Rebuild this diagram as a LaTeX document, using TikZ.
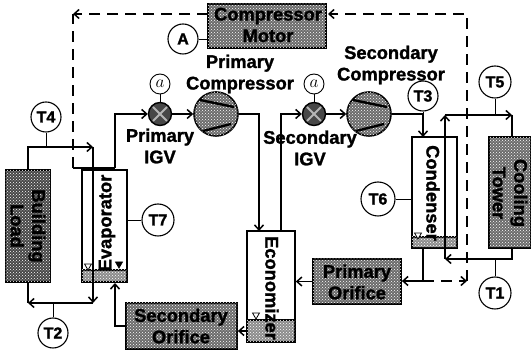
\documentclass[tikz,border=0pt]{standalone}
\usepackage{fontspec}
\setmainfont{Liberation Sans}[BoldFeatures={FakeBold=1.5}]
\usetikzlibrary{arrows.meta, shapes.geometric, calc, patterns}
\definecolor{cshade}{gray}{0.42}
\definecolor{cwater}{gray}{0.55}
\definecolor{cdark}{gray}{0.28}
\tikzset{
  every picture/.style={line width=1.4pt},
  caption/.style={font=\fontsize{18.3}{21.5}\selectfont\bfseries, align=center, inner sep=0pt},
  unit/.style={draw, fill=cshade, postaction={pattern=crosshatch dots, pattern color=white}, line width=1.8pt, inner sep=0pt},
  vessel/.style={draw, fill=white, line width=1.6pt, inner sep=0pt},
  water/.style={draw, fill=cwater, postaction={pattern=crosshatch dots, pattern color=white}, line width=1.6pt, inner sep=0pt},
  levelmark/.style={draw, fill=white, regular polygon, regular polygon sides=3, shape border rotate=180, minimum size=8pt, inner sep=0pt, line width=0.8pt},
  sensor/.style={draw, circle, fill=white, minimum size=#1, inner sep=0pt, line width=1.1pt, font=\fontsize{16}{16}\selectfont\bfseries},
  sensor/.default=30pt,
  stem/.style={line width=0.9pt},
  pipe/.style={-{Straight Barb[length=5pt,width=9pt,line width=1.5pt]}, line width=1.4pt},
  signal/.style={pipe, dash pattern=on 11pt off 7pt},
  comp/.style={draw, circle, fill=cshade, postaction={pattern=crosshatch dots, pattern color=white}, minimum size=44pt, inner sep=0pt, line width=1.6pt},
  valve/.style={draw, circle, fill=cdark, minimum size=23pt, inner sep=0pt, line width=1.4pt},
}
\begin{document}
\begin{tikzpicture}[x=1pt, y=-1pt]
  \useasboundingbox (0,0) rectangle (531,352);
  % units
  \node[unit, minimum width=118pt, minimum height=44pt] (motor) at (267,26) {};
  \node[unit, fill=cdark, minimum width=45pt, minimum height=112pt] (load) at (28,226) {};
  \node[unit, minimum width=42pt, minimum height=111pt] (tower) at (510,192.5) {};
  \node[unit, minimum width=88pt, minimum height=45pt] (orifA) at (357,281.5) {};
  \node[unit, minimum width=111pt, minimum height=46pt] (orifB) at (181.5,326) {};
  % vessels
  \node[vessel, minimum width=45pt, minimum height=112pt] (evap) at (104.5,226) {};
  \node[vessel, minimum width=48pt, minimum height=111pt] (econ) at (271,286.5) {};
  \node[vessel, minimum width=45pt, minimum height=111pt] (cond) at (434.5,192.5) {};
  \node[water, minimum width=45pt, minimum height=12pt] (evapw) at (104.5,276) {};
  \node[water, minimum width=48pt, minimum height=22pt] (econw) at (271,331) {};
  \node[water, minimum width=45pt, minimum height=11pt] (condw) at (434.5,242.5) {};
  \node[levelmark] (evapm) at (88,266) {};
  \node[levelmark, fill=black] (evapn) at (119,264) {};
  \node[levelmark] (econm) at (256,315) {};
  \node[levelmark] (condm) at (418,235) {};
  % compressors and valves
  \node[comp] (compA) at (216,114) {};
  \node[comp] (compB) at (369,114) {};
  \node[valve] (igvA) at (160,114) {};
  \node[valve] (igvB) at (314,114) {};
  \foreach \c in {compA,compB} {
    \draw[line width=2.4pt] ($(\c)+(-16,-14)$) -- ($(\c)+(18,-7)$);
    \draw[line width=2.4pt] ($(\c)+(-13,17)$) -- ($(\c)+(15,10)$);
  }
  \foreach \c in {igvA,igvB} {
    \draw[cshade!50, line width=2pt] ($(\c)+(-7,-7)$) -- ($(\c)+(7,7)$);
    \draw[cshade!50, line width=2pt] ($(\c)+(-7,7)$) -- ($(\c)+(7,-7)$);
  }
  % sensors
  \node[sensor] (A) at (183,39) {A};
  \node[sensor] (T4) at (46,117) {T4};
  \node[sensor] (T2) at (53,333) {T2};
  \node[sensor=32pt] (T7) at (158,220) {T7};
  \node[sensor] (T3) at (423,96) {T3};
  \node[sensor=32pt] (T5) at (495,82) {T5};
  \node[sensor=34pt] (T6) at (378,199) {T6};
  \node[sensor=32pt] (T1) at (495,293) {T1};
  \node[sensor=20pt, line width=0.9pt, font=\fontsize{16}{16}\selectfont] (aA) at (160,84) {$a$};
  \node[sensor=20pt, line width=0.9pt, font=\fontsize{16}{16}\selectfont] (aB) at (314,84) {$a$};
  % junctions
  \coordinate (loadtop) at (28,147);
  \coordinate (evaptop) at (93,147);
  \coordinate (loadbot) at (28,303);
  \coordinate (evapbot) at (93,303);
  \coordinate (evapin) at (115,326);
  \coordinate (evapout) at (115,283);
  \coordinate (evapvap) at (115,168);
  \coordinate (sigevap) at (73,168);
  \coordinate (sigtop) at (73,14);
  \coordinate (sigmotorA) at (208,14);
  \coordinate (sigmotorB) at (328,14);
  \coordinate (sigright) at (467,14);
  \coordinate (sigcorner) at (467,281);
  \coordinate (liqA) at (423,281);
  \coordinate (condout) at (423,248);
  \coordinate (condin) at (423,137);
  \coordinate (disA) at (259,114);
  \coordinate (econin) at (259,231);
  \coordinate (disB) at (281,114);
  \coordinate (econout) at (281,231);
  \coordinate (disC) at (423,114);
  \coordinate (cwbot) at (445,259);
  \coordinate (cwtop) at (445,115);
  \coordinate (twrtop) at (512,115);
  \coordinate (twrin) at (512,137);
  \coordinate (twrout) at (512,259);
  % water circuits
  \draw[pipe] (load.north) -- (loadtop) -- (evaptop);
  \draw[pipe] (evaptop) -- (evapbot);
  \draw (load.south) -- (loadbot);
  \draw[pipe] (evapbot) -- (loadbot);
  \draw[pipe] (twrout |- tower.south) -- (twrout) -- (cwbot);
  \draw[pipe] (cwbot) -- (cwtop);
  \draw[pipe] (cwtop) -- (twrtop);
  \draw (twrtop) -- (twrin);
  % refrigerant circuit
  \draw[pipe] (evapvap) -- (evapvap |- igvA) -- (igvA);
  \draw[pipe] (igvA) -- (compA);
  \draw[pipe] (compA) -- (disA) -- (econin);
  \draw[pipe] (econout) -- (disB) -- (igvB);
  \draw[pipe] (igvB) -- (compB);
  \draw[pipe] (compB) -- (disC) -- (condin);
  \draw (condout) -- (liqA);
  \draw[pipe] (liqA) -- (orifA.east |- liqA);
  \draw[pipe] (orifA.west) -- (econ.east |- orifA);
  \draw[pipe] (econ.west |- econw) -- (orifB.east |- econw);
  \draw[pipe] (orifB.west |- evapin) -- (evapin) -- (evapout);
  % signals
  \draw (sigevap) -- (evapvap);
  \draw[signal] (sigmotorA) -- (sigtop);
  \draw[signal, -] (sigevap) -- (sigtop);
  \draw[signal] (liqA) -- (sigcorner);
  \draw[signal] (sigcorner) -- (sigright) -- (sigmotorB);
  % stems
  \draw[stem] (A) -- (motor.west |- A);
  \draw[stem] (T4) -- (T4 |- loadtop);
  \draw[stem] (T2) -- (T2 |- loadbot);
  \draw[stem] (T7) -- (evap.east |- T7);
  \draw[stem] (T3) -- (disC);
  \draw[stem] (T5) -- (T5 |- twrtop);
  \draw[stem] (T6) -- (cond.west |- T6);
  \draw[stem] (T1) -- (T1 |- twrout);
  \draw[stem] (aA) -- (igvA);
  \draw[stem] (aB) -- (igvB);
  % labels
  \node[caption] (motortxt) at (268,25) {Compressor\\Motor};
  \node[caption, rotate=-90] (loadtxt) at (28,226) {Building\\Load};
  \node[caption, rotate=-90] (towertxt) at (510,193) {Cooling\\Tower};
  \node[caption] (orifAtxt) at (357,282) {Primary\\Orifice};
  \node[caption] (orifBtxt) at (181,326) {Secondary\\Orifice};
  \node[caption, rotate=90] (evaptxt) at (107,223) {Evaporator};
  \node[caption, rotate=-90] (econtxt) at (272,288) {Economizer};
  \node[caption, rotate=-90] (condtxt) at (433,193) {Condenser};
  \node[caption] (compAtxt) at (240,74) {Primary\\Compressor};
  \node[caption] (compBtxt) at (391,65) {Secondary\\Compressor};
  \node[caption] (igvAtxt) at (160,146) {Primary\\IGV};
  \node[caption] (igvBtxt) at (310,148) {Secondary\\IGV};
\end{tikzpicture}
\end{document}
